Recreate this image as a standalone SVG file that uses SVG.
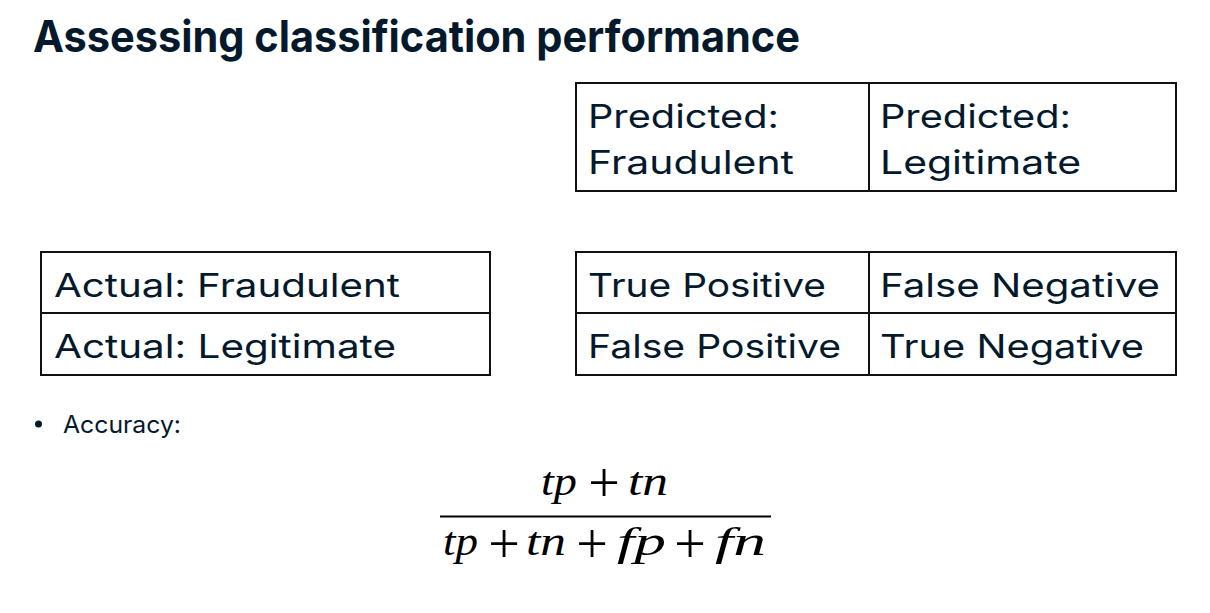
<svg xmlns="http://www.w3.org/2000/svg" width="1210" height="613" viewBox="0 0 1210 613">
<style>
.t{font-family:Inter,"Open Sans","Liberation Sans",sans-serif;fill:#05192D}
.cell{font-size:33px}
.box{fill:none;stroke:#111;stroke-width:2}
.m{font-family:"Liberation Serif","DejaVu Serif",serif;font-style:italic;font-size:40px;fill:#000}
.op{font-family:"Liberation Serif","DejaVu Serif",serif;font-size:56px;fill:#000;text-anchor:middle}
</style>
<rect width="1210" height="613" fill="#fff"/>
<text id="title" class="t" x="33" y="52" font-size="44" font-weight="700" textLength="767" lengthAdjust="spacingAndGlyphs">Assessing classification performance</text>
<g id="predicted">
<rect class="box" x="576" y="83" width="600" height="108"/>
<line class="box" x1="869" y1="83" x2="869" y2="191"/>
<text class="t cell" x="588" y="128" textLength="191" lengthAdjust="spacingAndGlyphs">Predicted:</text>
<text class="t cell" x="588" y="174" textLength="206" lengthAdjust="spacingAndGlyphs">Fraudulent</text>
<text class="t cell" x="880" y="128" textLength="191" lengthAdjust="spacingAndGlyphs">Predicted:</text>
<text class="t cell" x="880" y="174" textLength="201" lengthAdjust="spacingAndGlyphs">Legitimate</text>
</g>
<g id="actual">
<rect class="box" x="41" y="252" width="449" height="123"/>
<line class="box" x1="41" y1="313" x2="490" y2="313"/>
<text class="t cell" x="54" y="297" textLength="346" lengthAdjust="spacingAndGlyphs">Actual: Fraudulent</text>
<text class="t cell" x="54" y="358" textLength="342" lengthAdjust="spacingAndGlyphs">Actual: Legitimate</text>
</g>
<g id="matrix">
<rect class="box" x="576" y="252" width="600" height="123"/>
<line class="box" x1="576" y1="313" x2="1176" y2="313"/>
<line class="box" x1="869" y1="252" x2="869" y2="375"/>
<text class="t cell" x="588" y="297" textLength="238" lengthAdjust="spacingAndGlyphs">True Positive</text>
<text class="t cell" x="880" y="297" textLength="280" lengthAdjust="spacingAndGlyphs">False Negative</text>
<text class="t cell" x="588" y="358" textLength="253" lengthAdjust="spacingAndGlyphs">False Positive</text>
<text class="t cell" x="880" y="358" textLength="264" lengthAdjust="spacingAndGlyphs">True Negative</text>
</g>
<g id="bullet">
<circle cx="38.5" cy="424" r="3.5" fill="#05192D"/>
<text class="t" x="63" y="433" font-size="24" textLength="118" lengthAdjust="spacingAndGlyphs">Accuracy:</text>
</g>
<g id="formula">
<text class="m" x="541" y="495" textLength="36" lengthAdjust="spacingAndGlyphs">tp</text>
<text class="op" x="604" y="502">+</text>
<text class="m" x="628" y="495" textLength="40" lengthAdjust="spacingAndGlyphs">tn</text>
<line x1="440" y1="516.5" x2="771" y2="516.5" stroke="#000" stroke-width="2.2"/>
<text class="m" x="443" y="555" textLength="35" lengthAdjust="spacingAndGlyphs">tp</text>
<text class="op" x="504" y="563">+</text>
<text class="m" x="526" y="555" textLength="40" lengthAdjust="spacingAndGlyphs">tn</text>
<text class="op" x="592" y="563">+</text>
<text class="m" x="617" y="555" textLength="49" lengthAdjust="spacingAndGlyphs">fp</text>
<text class="op" x="690" y="563">+</text>
<text class="m" x="715" y="555" textLength="51" lengthAdjust="spacingAndGlyphs">fn</text>
</g>
</svg>
